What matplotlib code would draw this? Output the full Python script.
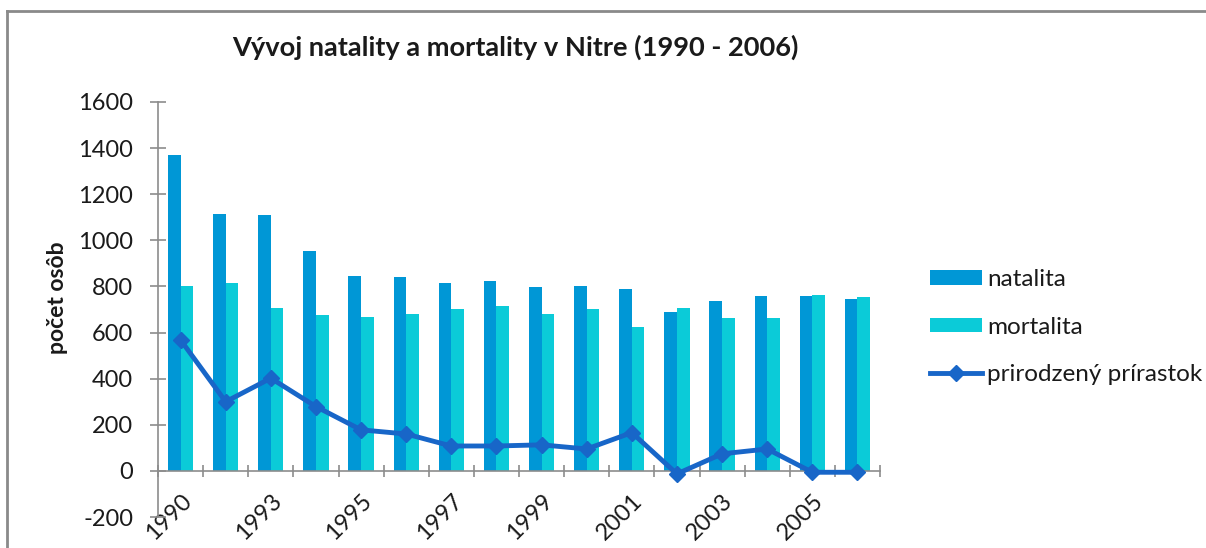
import matplotlib
matplotlib.use('Agg')  # Non-interactive backend
import matplotlib.pyplot as plt
from matplotlib.lines import Line2D
import numpy as np

plt.rcParams['font.family'] = ['Lato', 'DejaVu Sans']

# data
years = ['1990', '1992', '1993', '1994', '1995', '1996', '1997', '1998',
         '1999', '2000', '2001', '2002', '2003', '2004', '2005', '2006']
natalita = [1370, 1114, 1108, 952, 847, 841, 813, 825, 796, 803, 790, 691, 736, 759, 759, 747]
mortalita = [803, 813, 708, 675, 669, 681, 702, 714, 681, 702, 624, 708, 663, 663, 764, 753]
prirastok = [568, 300, 402, 279, 178, 160, 108, 108, 113, 95, 166, -13, 74, 95, -6, -6]
y_ticks = [-200, 0, 200, 400, 600, 800, 1000, 1200, 1400, 1600]

C_NAT = '#0097D6'
C_MORT = '#0BCBD8'
C_LINE = '#1866C8'
C_AXIS = '#8C8C8C'
C_TEXT = '#1A1A1A'

W, H = 1206, 548
fig = plt.figure(figsize=(W / 100, H / 100), dpi=100)
fig.patch.set_facecolor('white')

ax = fig.add_axes([158 / W, 1 - 517 / H, (880 - 158) / W, (517 - 102) / H])
x = np.arange(len(years))
bw = 0.28

b1 = ax.bar(x - bw / 2, natalita, width=bw, color=C_NAT, label='natalita', zorder=2)
b2 = ax.bar(x + bw / 2, mortalita, width=bw, color=C_MORT, label='mortalita', zorder=2)
ln, = ax.plot(x, prirastok, color=C_LINE, linewidth=3.5, marker='D', markersize=8.5,
              label='prirodzený prírastok', zorder=3, solid_joinstyle='round')

ax.set_xlim(-0.5, len(years) - 0.5)
ax.set_ylim(-200, 1600)

# spines
for s in ['top', 'right']:
    ax.spines[s].set_visible(False)
ax.spines['bottom'].set_position(('data', 0))
ax.spines['left'].set_color(C_AXIS)
ax.spines['bottom'].set_color(C_AXIS)
ax.spines['left'].set_linewidth(1.2)
ax.spines['bottom'].set_linewidth(1.2)

# y ticks
ax.set_yticks(y_ticks)
ax.set_yticklabels([str(v) for v in y_ticks])
ax.tick_params(axis='y', direction='inout', length=11.5, width=1.2, color=C_AXIS,
               labelsize=17, labelcolor=C_TEXT, pad=12)

# x ticks: marks between categories, labels on every other category
ax.set_xticks(np.arange(-0.5, len(years), 1))
ax.set_xticklabels([])
ax.set_xticks(x, labels=[y if i % 2 == 0 else '' for i, y in enumerate(years)], minor=True)
ax.tick_params(axis='x', which='major', direction='inout', length=8.6, width=1.2, color=C_AXIS)
ax.tick_params(axis='x', which='minor', length=0, labelsize=17, labelcolor=C_TEXT, pad=14)
for lab in ax.get_xticklabels(minor=True):
    lab.set_rotation(45)
    lab.set_ha('right')
    lab.set_rotation_mode('anchor')

fig.text(57 / W, 1 - 298 / H, 'počet osôb', rotation=90, ha='center', va='center',
         fontsize=16.5, fontweight='bold', color=C_TEXT)
fig.text(515 / W, 1 - 47 / H, 'Vývoj natality a mortality v Nitre (1990 - 2006)',
         ha='center', va='center', fontsize=19.6, fontweight='bold', color=C_TEXT)

ax.legend(handles=[b1, b2, ln], loc='upper left', bbox_to_anchor=(918 / W, 1 - 257 / H),
          bbox_transform=fig.transFigure, frameon=False, fontsize=17.5,
          borderpad=0, handlelength=2.15, handleheight=0.55, handletextpad=0.2,
          labelspacing=1.09, labelcolor=C_TEXT)

# chart frame (top and left edge visible in reference)
fig.add_artist(Line2D([7 / W, 1], [1 - 11 / H, 1 - 11 / H], color='#8A8A8A', linewidth=2))
fig.add_artist(Line2D([7 / W, 7 / W], [0, 1 - 11 / H], color='#8A8A8A', linewidth=2))

fig.savefig('out.png', dpi=100, facecolor='white')
